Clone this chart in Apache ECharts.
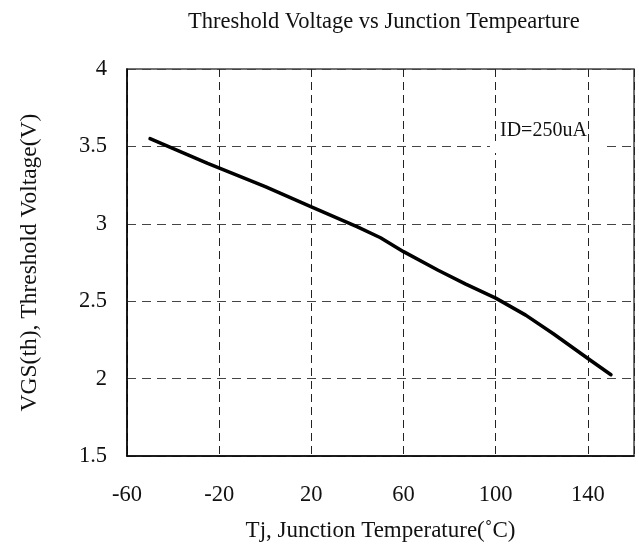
<!DOCTYPE html>
<html>
<head>
<meta charset="utf-8">
<script src="https://cdn.jsdelivr.net/npm/echarts@6/dist/echarts.min.js"></script>
<style>
html,body{margin:0;padding:0;background:#fff;}
#chart{width:639px;height:547px;}
</style>
</head>
<body>
<div id="chart"></div>
<script>
// Data
const temperature = [-50, -25, 0, 20, 40, 50, 60, 75, 87, 100, 113, 125, 140, 150];
const vgsth = [3.55, 3.39, 3.24, 3.11, 2.98, 2.91, 2.82, 2.70, 2.61, 2.52, 2.41, 2.29, 2.13, 2.025];
const xTicks = [-60, -20, 20, 60, 100, 140];
const xMax = 160;
const yTicks = [1.5, 2, 2.5, 3, 3.5, 4];
const titleText = 'Threshold Voltage vs Junction Tempearture';
const xName = 'Tj, Junction Temperature(\u02DAC)';
const yName = 'VGS(th), Threshold Voltage(V)';
const noteText = 'ID=250uA';

const FONT = '"Liberation Serif", "Times New Roman", serif';
const chart = echarts.init(document.getElementById('chart'), null, {renderer: 'canvas'});
const pairs = temperature.map((t, i) => [t, vgsth[i]]);

chart.setOption({
  backgroundColor: '#fff',
  animation: false,
  title: {
    text: titleText,
    left: 183, top: 6,
    textStyle: {fontFamily: FONT, fontSize: 22.5, fontWeight: 'normal', color: '#111'}
  },
  grid: {
    left: 127, right: 5, top: 69, bottom: 90,
    show: true, borderColor: '#444', borderWidth: 1.5, backgroundColor: 'transparent'
  },
  xAxis: {
    type: 'value',
    min: xTicks[0], max: xMax,
    interval: xTicks[1] - xTicks[0],
    name: xName, nameLocation: 'middle', nameGap: 63,
    nameTextStyle: {fontFamily: FONT, fontSize: 23, color: '#111'},
    axisLine: {show: true, onZero: false, lineStyle: {color: '#000', width: 1.5}},
    axisTick: {show: false},
    axisLabel: {
      fontFamily: FONT, fontSize: 22.5, color: '#111', margin: 28,
      showMaxLabel: false,
      formatter: v => (xTicks.indexOf(v) >= 0 ? String(v) : '')
    },
    splitLine: {show: true, lineStyle: {color: '#222', type: [8, 5], width: 1}}
  },
  yAxis: {
    type: 'value',
    min: yTicks[0], max: yTicks[yTicks.length - 1],
    interval: yTicks[1] - yTicks[0],
    name: yName, nameLocation: 'middle', nameGap: 85, nameRotate: 90,
    nameTextStyle: {fontFamily: FONT, fontSize: 23.5, color: '#111'},
    axisLine: {show: true, onZero: false, lineStyle: {color: '#000', width: 1.5}},
    axisTick: {show: false},
    axisLabel: {fontFamily: FONT, fontSize: 22.5, color: '#111', margin: 20},
    splitLine: {show: true, lineStyle: {color: '#444', type: [9, 6], width: 1}}
  },
  graphic: [
    {type: 'rect', z: 50, shape: {x: 490, y: 141, width: 97, height: 12}, style: {fill: '#fff'}},
    {type: 'rect', z: 50, shape: {x: 591, y: 141, width: 12, height: 12}, style: {fill: '#fff'}},
    {type: 'text', z: 60, left: 500, top: 121,
     style: {text: noteText, font: '20px ' + FONT, fill: '#111'}}
  ],
  series: [{
    type: 'line',
    data: pairs,
    showSymbol: false,
    symbol: 'none',
    lineStyle: {color: '#000', width: 3.5, cap: 'round', join: 'round'},
    z: 5
  }]
});
</script>
</body>
</html>
